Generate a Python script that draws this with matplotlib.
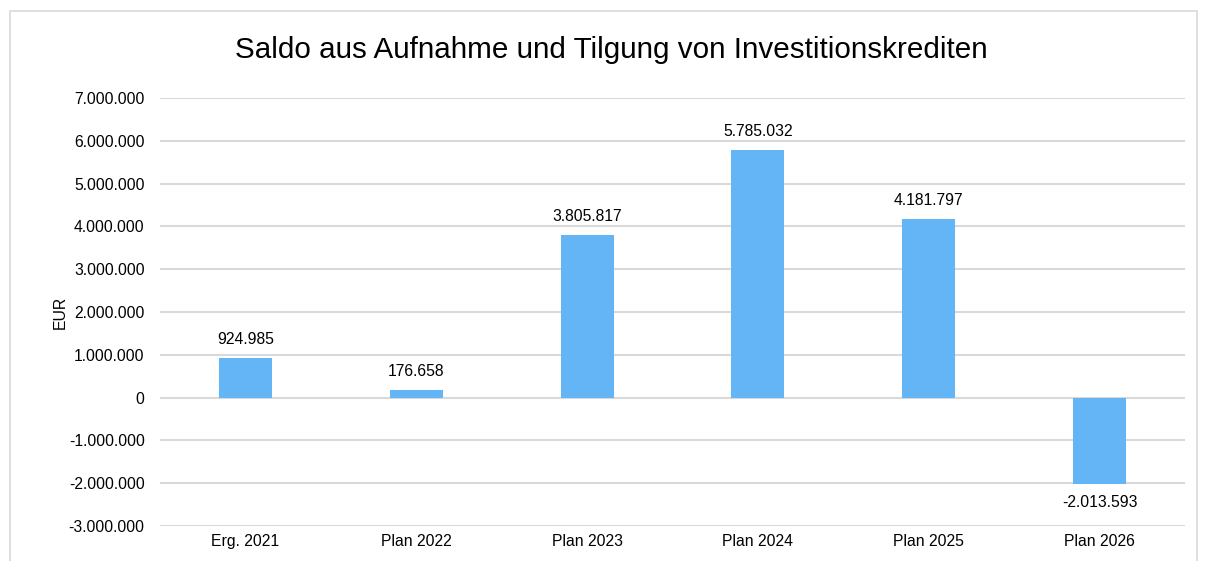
import matplotlib
matplotlib.use("Agg")
import matplotlib.pyplot as plt
from matplotlib.patches import Rectangle
from matplotlib.ticker import FuncFormatter, MultipleLocator

categories = ["Erg. 2021", "Plan 2022", "Plan 2023", "Plan 2024", "Plan 2025", "Plan 2026"]
values = [924985, 176658, 3805817, 5785032, 4181797, -2013593]
title = "Saldo aus Aufnahme und Tilgung von Investitionskrediten"
ylabel = "EUR"

plt.rcParams['font.family'] = ['Liberation Sans', 'DejaVu Sans']

def fmt(v):
    s = f"{abs(int(round(v))):,}".replace(",", ".")
    return ("-" if v < 0 else "") + s

fs = 11.3

fig = plt.figure(figsize=(12.09, 5.61), dpi=100)
fig.patches.append(Rectangle((10/1209, -0.1), 1187/1209, 1 - 11/561 + 0.1,
                             transform=fig.transFigure, fill=False,
                             edgecolor="#D9D9D9", linewidth=1.2))
ax = fig.add_axes([160/1209, 1 - 526/561, 1025/1209, 428/561])

x = list(range(len(categories)))
ax.bar(x, values, width=0.31, color="#64B5F6", zorder=3)
ax.set_xlim(-0.5, len(categories) - 0.5)
ax.set_ylim(-3000000, 7000000)
ax.yaxis.set_major_locator(MultipleLocator(1000000))
ax.yaxis.set_major_formatter(FuncFormatter(lambda v, p: fmt(v)))
ax.grid(axis="y", color="#D9D9D9", linewidth=1.5, zorder=0)
for s in ax.spines.values():
    s.set_visible(False)
ax.tick_params(axis="both", length=0, labelsize=fs, colors="black")
ax.tick_params(axis="y", pad=11)
ax.tick_params(axis="x", pad=6)
ax.set_xticks(x)
ax.set_xticklabels(categories)

for xi, v in zip(x, values):
    if v >= 0:
        ax.annotate(fmt(v), (xi, v), xytext=(0, 8), textcoords="offset points",
                    ha="center", va="bottom", fontsize=fs)
    else:
        ax.annotate(fmt(v), (xi, v), xytext=(0, -8), textcoords="offset points",
                    ha="center", va="top", fontsize=fs)

fig.text(611/1209, 1 - 50/561, title, ha="center", va="center", fontsize=21.3)
fig.text(60/1209, 1 - 312/561, ylabel, ha="center", va="center", rotation=90, fontsize=fs)

fig.savefig("out.png", dpi=100)
